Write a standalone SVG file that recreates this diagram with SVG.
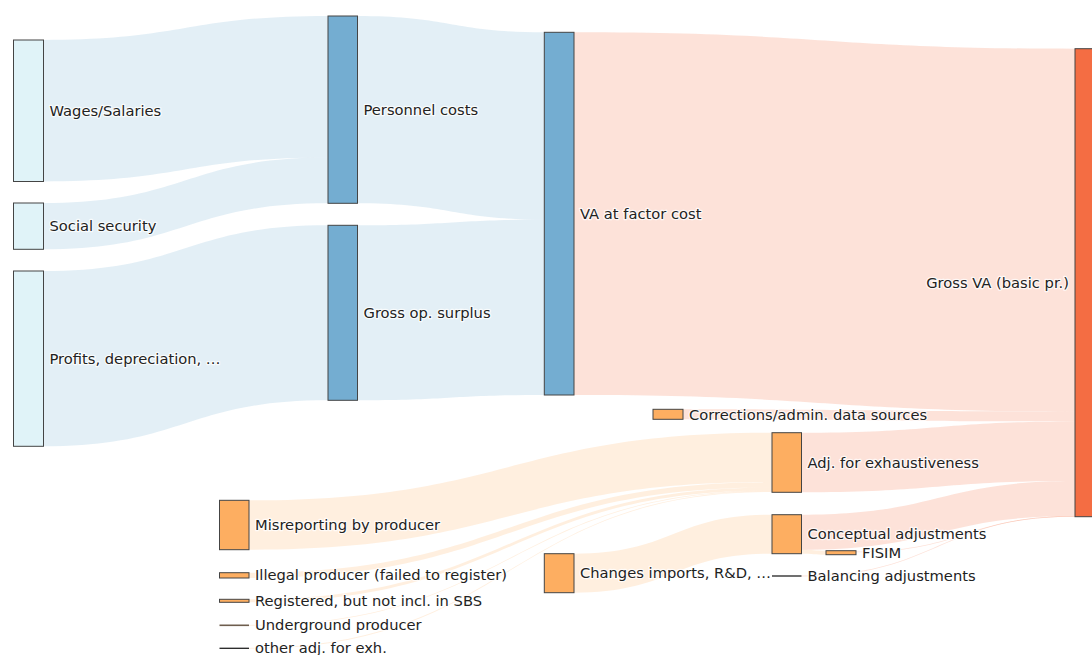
<svg xmlns="http://www.w3.org/2000/svg" width="1092" height="655" viewBox="0 0 1092 655">
<style>
.lb{fill:#74add1;fill-opacity:0.2}
.lr{fill:#f46d43;fill-opacity:0.2}
.lo{fill:#fdae61;fill-opacity:0.2}
.n{stroke:#444;stroke-width:1}
.nl{fill:#e0f3f8}
.nb{fill:#74add1}
.no{fill:#fdae61}
.nr{fill:#f46d43}
.z{stroke:#222;stroke-width:1.3}
text{font-family:"DejaVu Sans",Verdana,sans-serif;font-size:14.7px;fill:#222;stroke:#fff;stroke-width:2.5px;stroke-opacity:0.75;paint-order:stroke;stroke-linejoin:round}
.e{text-anchor:end}
</style>
<rect width="1092" height="655" fill="#fff"/>
<g id="links">
<path class="lb" d="M43.5,40C185.75,40 185.75,16 328,16L328,157.5C185.75,157.5 185.75,181.5 43.5,181.5Z"/>
<path class="lb" d="M43.5,203C185.75,203 185.75,157.5 328,157.5L328,203.3C185.75,203.3 185.75,249.3 43.5,249.3Z"/>
<path class="lb" d="M43.5,271C185.75,271 185.75,225.3 328,225.3L328,400.3C185.75,400.3 185.75,446.3 43.5,446.3Z"/>
<path class="lb" d="M357.5,16C450.9,16 450.9,32.3 544.3,32.3L544.3,219.6C450.9,219.6 450.9,203.3 357.5,203.3Z"/>
<path class="lb" d="M357.5,225.3C450.9,225.3 450.9,219.6 544.3,219.6L544.3,395C450.9,395 450.9,400.3 357.5,400.3Z"/>
<path class="lr" d="M574,32.3C824.5,32.3 824.5,48.7 1075,48.7L1075,411.4C824.5,411.4 824.5,395 574,395Z"/>
<path class="lr" d="M683,409.3C879,409.3 879,411.4 1075,411.4L1075,421.4C879,421.4 879,419.3 683,419.3Z"/>
<path class="lr" d="M801.5,432.7C938.25,432.7 938.25,421.4 1075,421.4L1075,481C938.25,481 938.25,492.3 801.5,492.3Z"/>
<path class="lr" d="M801.5,514.7C938.25,514.7 938.25,481 1075,481L1075,516C938.25,516 938.25,549.7 801.5,549.7Z"/>
<path class="lo" d="M801.5,549.7C813.75,549.7 813.75,550.7 826,550.7L826,554.7C813.75,554.7 813.75,553.7 801.5,553.7Z"/>
<path class="lr" d="M856,551.5C965.5,551.5 965.5,515.9 1075,515.9L1075,516.7C965.5,516.7 965.5,552.3 856,552.3Z"/>
<path class="lr" d="M801.5,575.6C938.25,575.6 938.25,516 1075,516L1075,516.7C938.25,516.7 938.25,576.4 801.5,576.4Z"/>
<path class="lo" d="M574,553.7C673,553.7 673,514.7 772,514.7L772,553.7C673,553.7 673,592.7 574,592.7Z"/>
<path class="lo" d="M249,500.3C510.5,500.3 510.5,432.7 772,432.7L772,482.1C510.5,482.1 510.5,549.7 249,549.7Z"/>
<path class="lo" d="M249,572.7C510.5,572.7 510.5,482.1 772,482.1L772,487.4C510.5,487.4 510.5,578 249,578Z"/>
<path class="lo" d="M249,599.3C510.5,599.3 510.5,487.4 772,487.4L772,490.4C510.5,490.4 510.5,602.3 249,602.3Z"/>
<path class="lo" d="M249,624.9C510.5,624.9 510.5,490.4 772,490.4L772,491.2C510.5,491.2 510.5,625.7 249,625.7Z"/>
<path class="lo" d="M249,647.9C510.5,647.9 510.5,491.2 772,491.2L772,492C510.5,492 510.5,648.7 249,648.7Z"/>
</g>
<g id="n-wages"><rect class="n nl" x="13.5" y="40" width="30" height="141.5"/><text x="49.5" y="116">Wages/Salaries</text></g>
<g id="n-social"><rect class="n nl" x="13.5" y="203" width="30" height="46.3"/><text x="49.5" y="231.3">Social security</text></g>
<g id="n-profits"><rect class="n nl" x="13.5" y="271" width="30" height="175.3"/><text x="49.5" y="363.8">Profits, depreciation, …</text></g>
<g id="n-personnel"><rect class="n nb" x="328" y="16" width="29.5" height="187.3"/><text x="363.5" y="114.8">Personnel costs</text></g>
<g id="n-gos"><rect class="n nb" x="328" y="225.3" width="29.5" height="175"/><text x="363.5" y="318">Gross op. surplus</text></g>
<g id="n-vafc"><rect class="n nb" x="544.3" y="32.3" width="29.7" height="362.7"/><text x="580" y="218.8">VA at factor cost</text></g>
<g id="n-grossva"><rect class="n nr" x="1075" y="48.7" width="30" height="468"/><text class="e" x="1069" y="287.8">Gross VA (basic pr.)</text></g>
<g id="n-corr"><rect class="n no" x="653" y="409.3" width="30" height="10"/><text x="689" y="419.5">Corrections/admin. data sources</text></g>
<g id="n-adj"><rect class="n no" x="772" y="432.7" width="29.5" height="59.6"/><text x="807.5" y="467.6">Adj. for exhaustiveness</text></g>
<g id="n-concept"><rect class="n no" x="772" y="514.7" width="29.5" height="39"/><text x="807.5" y="539.3">Conceptual adjustments</text></g>
<g id="n-fisim"><rect class="n no" x="826" y="550.7" width="30" height="4"/><text x="862" y="557.8">FISIM</text></g>
<g id="n-balancing"><line class="z" x1="772" y1="576" x2="801.5" y2="576"/><text x="807.5" y="581.1">Balancing adjustments</text></g>
<g id="n-changes"><rect class="n no" x="544.3" y="553.7" width="29.7" height="39"/><text x="580" y="578.3">Changes imports, R&amp;D, …</text></g>
<g id="n-misrep"><rect class="n no" x="219.5" y="500.3" width="29.5" height="49.4"/><text x="255" y="530.1">Misreporting by producer</text></g>
<g id="n-illegal"><rect class="n no" x="219.5" y="572.7" width="29.5" height="5.3"/><text x="255" y="580.4">Illegal producer (failed to register)</text></g>
<g id="n-registered"><rect class="n no" x="219.5" y="599.3" width="29.5" height="3"/><text x="255" y="605.9">Registered, but not incl. in SBS</text></g>
<g id="n-underground"><line x1="219.5" y1="625.3" x2="249" y2="625.3" stroke="#6e5e4e" stroke-width="1.6"/><text x="255" y="630.4">Underground producer</text></g>
<g id="n-other"><line class="z" x1="219.5" y1="648.3" x2="249" y2="648.3"/><text x="255" y="653.4">other adj. for exh.</text></g>
</svg>
